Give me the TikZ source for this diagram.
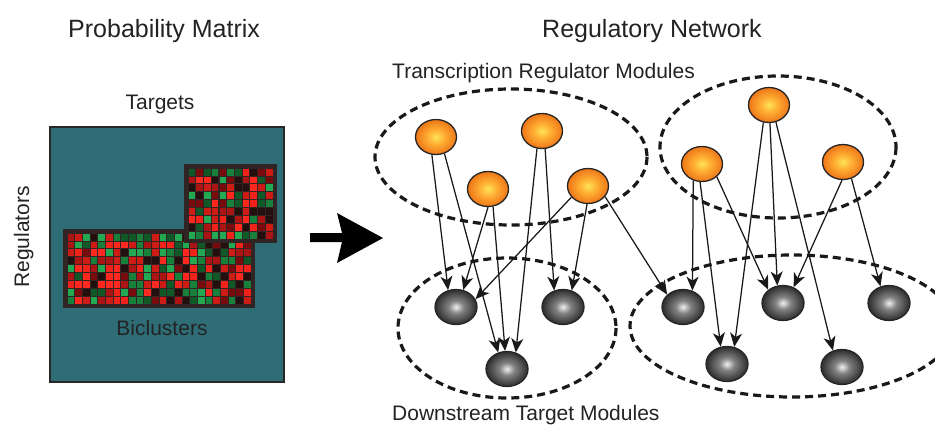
\documentclass[tikz,border=0pt]{standalone}
\usepackage{fontspec}
\setmainfont{Liberation Sans}
\usetikzlibrary{arrows.meta,shapes.geometric}
\definecolor{tealbox}{RGB}{46,108,118}
\definecolor{boxline}{RGB}{40,40,40}
\definecolor{bicbg}{RGB}{48,36,36}
\definecolor{txt}{RGB}{35,35,35}
\definecolor{hm1}{RGB}{255,40,30}
\definecolor{hm2}{RGB}{240,34,26}
\definecolor{hm3}{RGB}{205,28,22}
\definecolor{hm4}{RGB}{170,20,18}
\definecolor{hm5}{RGB}{120,12,12}
\definecolor{hm6}{RGB}{35,16,14}
\definecolor{hm7}{RGB}{16,88,40}
\definecolor{hm8}{RGB}{36,168,82}
\definecolor{hm9}{RGB}{24,128,58}
\definecolor{oc1}{RGB}{255,228,90}
\definecolor{oc2}{RGB}{255,176,52}
\definecolor{oc3}{RGB}{238,118,24}
\definecolor{gc1}{RGB}{240,240,240}
\definecolor{gc2}{RGB}{130,130,130}
\definecolor{gc3}{RGB}{45,45,45}
\pgfdeclareradialshading{orangeball}{\pgfpoint{0bp}{0bp}}{color(0bp)=(oc1); color(10bp)=(oc2); color(25bp)=(oc3); color(50bp)=(oc3)}
\pgfdeclareradialshading{grayball}{\pgfpoint{0bp}{0bp}}{color(0bp)=(gc1); color(9bp)=(gc2); color(25bp)=(gc3); color(50bp)=(gc3)}
\tikzset{
  title/.style={text=txt, font=\fontsize{25}{30}\selectfont, inner sep=0},
  label/.style={text=txt, font=\fontsize{21}{25}\selectfont, inner sep=0},
  reg/.style={ellipse, minimum width=41, minimum height=35, inner sep=0, draw=black!85, line width=1.3, shade, shading=orangeball},
  tgt/.style={ellipse, minimum width=42, minimum height=35, inner sep=0, draw=black!85, line width=1.3, shade, shading=grayball},
  module/.style={draw=black!90, line width=3.2, dash pattern=on 8pt off 5pt},
  edge/.style={-{Stealth[length=14pt,width=12pt,inset=4pt]}, line width=1.25, draw=black!90},
}
\begin{document}
\begin{tikzpicture}[x=1pt,y=-1pt]
\useasboundingbox (0,0) rectangle (935,424);
\clip (0,0) rectangle (935,424);
\fill[white] (0,0) rectangle (935,424);

% titles
\node[title, anchor=base west] (t1) at (68,37) {Probability Matrix};
\node[title, anchor=base west] (t2) at (542,37) {Regulatory Network};

% matrix
\node[label, anchor=base] (targets) at (160,109) {Targets};
\filldraw[fill=tealbox, draw=boxline, line width=2.5] (50,127) rectangle (284,382);
\node[label, anchor=base, rotate=90] (regs) at (29,237) {Regulators};

\pgfmathsetseed{11}
\fill[bicbg] (63,229) rectangle (255,308);
\foreach \i in {0,...,23}{
  \foreach \j in {0,...,8}{
    \pgfmathrandominteger{\c}{1}{9}
    \fill[fill=hm\c] (67.6+\i*7.67, 233.6+\j*7.9) rectangle ++(6.7,6.9);
  }
}
\fill[bicbg] (184,164) rectangle (277,243);
\foreach \i in {0,...,10}{
  \foreach \j in {0,...,8}{
    \pgfmathrandominteger{\c}{1}{9}
    \fill[fill=hm\c] (188.6+\i*7.73, 168.6+\j*7.9) rectangle ++(6.7,6.9);
  }
}
\node[label, anchor=base] (bic) at (162,335) {Biclusters};

% big arrow
\fill[black] (310,233) -- (342,233) -- (337,213) -- (383,238) -- (337,263) -- (342,242) -- (310,242) -- cycle;

% labels
\node[label, anchor=base west] (trm) at (392,78) {Transcription Regulator Modules};
\node[label, anchor=base west] (dtm) at (392,420) {Downstream Target Modules};

% modules
\draw[module] (511,157) ellipse [x radius=136, y radius=68];
\draw[module] (778,147) ellipse [x radius=118, y radius=71];
\draw[module] (507,328) ellipse [x radius=109, y radius=70];
\draw[module] (792,326) ellipse [x radius=162, y radius=71];

% regulators
\node[reg] (O1) at (436,137) {};
\node[reg] (O2) at (542,131) {};
\node[reg] (O3) at (488,189) {};
\node[reg] (O4) at (588,186) {};
\node[reg] (O5) at (769,105) {};
\node[reg] (O6) at (702,164) {};
\node[reg] (O7) at (843,162) {};

% targets
\node[tgt] (G1) at (456,307) {};
\node[tgt] (G2) at (563,307) {};
\node[tgt] (G3) at (507,369) {};
\node[tgt] (G4) at (683,307) {};
\node[tgt] (G5) at (783,303) {};
\node[tgt] (G6) at (889,303) {};
\node[tgt] (G7) at (727,364) {};
\node[tgt] (G8) at (842,367) {};

% edges
\draw[edge] (O1.257) -- (G1.115);
\draw[edge] (O1.297) -- (G3.118);
\draw[edge] (O3.270) -- (G1.67);
\draw[edge] (O3.286) -- (G3.96);
\draw[edge] (O2.254) -- (G3.62);
\draw[edge] (O2.280) -- (G2.118);
\draw[edge] (O4.214) -- (G1.22);
\draw[edge] (O4.267) -- (G2.62);
\draw[edge] (O4.328) -- (G4.142);
\draw[edge] (O6.242) -- (G4.60);
\draw[edge] (O6.264) -- (G7.110);
\draw[edge] (O6.319) -- (G5.138);
\draw[edge] (O5.252) -- (G7.67);
\draw[edge] (O5.273) -- (G5.108);
\draw[edge] (O5.292) -- (G8.119);
\draw[edge] (O7.267) -- (G5.56);
\draw[edge] (O7.297) -- (G6.117);
\end{tikzpicture}
\end{document}
